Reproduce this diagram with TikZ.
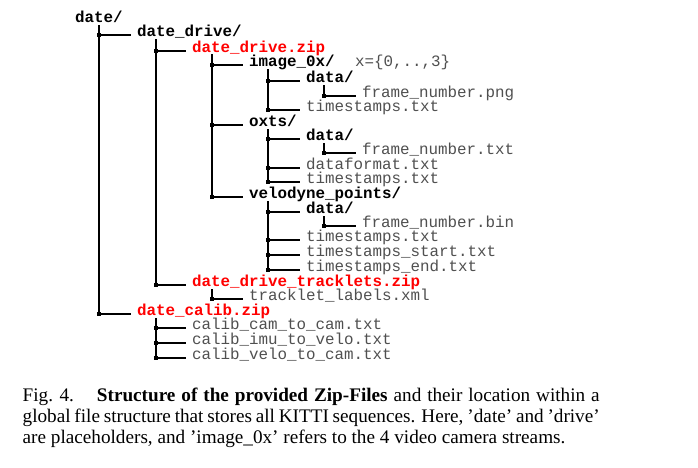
\documentclass[tikz,border=0pt]{standalone}
\usepackage{fontspec}
\setmainfont{Liberation Serif}
\newfontfamily\courfont{Liberation Mono}
\definecolor{filegray}{HTML}{505050}
\definecolor{zipred}{HTML}{FF0000}
\begin{document}
\begin{tikzpicture}[x=1pt,y=-1pt,
  item/.style={anchor=base west,inner sep=0pt,outer sep=0pt,font=\courfont\fontsize{15.85}{15.85}\selectfont},
  dirnode/.style={item,font=\courfont\bfseries\fontsize{15.85}{15.85}\selectfont,text=black},
  zipnode/.style={item,font=\courfont\bfseries\fontsize{15.85}{15.85}\selectfont,text=zipred},
  filenode/.style={item,text=filegray},
  conn/.style={line width=2pt,draw=black},
  jdot/.style={fill=black,inner sep=0pt,minimum size=4pt,rectangle},
  captext/.style={anchor=base west,inner sep=0pt,font=\fontsize{19.2}{21}\selectfont}
]
\useasboundingbox (0,0) rectangle (698,467);
\fill[white] (0,0) rectangle (698,467);

% ---------- nodes (baseline = line y + 1.5) ----------
\node[dirnode]  (date)   at (75,22.5)   {date/};
\node[dirnode]  (dd)     at (137,36.5)  {date\_drive/};
\node[zipnode]  (ddz)    at (192,52.5)  {date\_drive.zip};
\node[dirnode]  (img)    at (249,66.5)  {image\_0x/};
\node[filenode] (imgx)   at (355,66.5)  {x=\{0,..,3\}};
\node[dirnode]  (imgd)   at (306,82.5)  {data/};
\node[filenode] (imgdf)  at (362,97.5)  {frame\_number.png};
\node[filenode] (imgts)  at (306,111.5) {timestamps.txt};
\node[dirnode]  (oxts)   at (249,126.5) {oxts/};
\node[dirnode]  (oxd)    at (306,140.5) {data/};
\node[filenode] (oxdf)   at (362,154.5) {frame\_number.txt};
\node[filenode] (oxfmt)  at (306,169.5) {dataformat.txt};
\node[filenode] (oxts2)  at (306,183.5) {timestamps.txt};
\node[dirnode]  (velo)   at (249,198.5) {velodyne\_points/};
\node[dirnode]  (vd)     at (306,213.5) {data/};
\node[filenode] (vdf)    at (362,227.5) {frame\_number.bin};
\node[filenode] (vts)    at (306,241.5) {timestamps.txt};
\node[filenode] (vtss)   at (306,256.5) {timestamps\_start.txt};
\node[filenode] (vtse)   at (306,271.5) {timestamps\_end.txt};
\node[zipnode]  (trk)    at (192,286.5) {date\_drive\_tracklets.zip};
\node[filenode] (trkl)   at (249,300.5) {tracklet\_labels.xml};
\node[zipnode]  (cal)    at (137,315.5) {date\_calib.zip};
\node[filenode] (cal1)   at (192,329.5) {calib\_cam\_to\_cam.txt};
\node[filenode] (cal2)   at (192,344.5) {calib\_imu\_to\_velo.txt};
\node[filenode] (cal3)   at (192,359.5) {calib\_velo\_to\_cam.txt};

% ---------- vertical starts of each parent ----------
\coordinate (pdate) at (99,25);
\coordinate (pdd)   at (155.5,39);
\coordinate (pddz)  at (212,54);
\coordinate (pimg)  at (268,69);
\coordinate (pimgd) at (324,85);
\coordinate (poxts) at (268,129);
\coordinate (poxd)  at (324,143);
\coordinate (pvelo) at (268,201);
\coordinate (pvd)   at (324,216);
\coordinate (ptrk)  at (212,289);
\coordinate (pcal)  at (155.5,318);

% ---------- connectors ----------
\foreach \p/\c in {pdate/dd,pdate/cal,
                   pdd/ddz,pdd/trk,
                   pddz/img,pddz/oxts,pddz/velo,
                   pimg/imgd,pimg/imgts,
                   pimgd/imgdf,
                   poxts/oxd,poxts/oxfmt,poxts/oxts2,
                   poxd/oxdf,
                   pvelo/vd,pvelo/vts,pvelo/vtss,pvelo/vtse,
                   pvd/vdf,
                   ptrk/trkl,
                   pcal/cal1,pcal/cal2,pcal/cal3}{
  \coordinate (e) at ([xshift=-6pt,yshift=1.5pt]\c.base west);
  \draw[conn] (\p) |- (e);
  \node[jdot] at (\p |- e) {};
}

% ---------- caption ----------
\node[captext] (cap1) at (22.5,401) {\makebox[577pt][s]{\mbox{Fig. 4.}\hspace*{1.2em}\textbf{Structure of the provided Zip-Files} and their location within a}};
\node[captext] (cap2) at (22.5,422) {\makebox[577pt][s]{global file structure that stores all KITTI sequences. Here, ’date’ and ’drive’}};
\node[captext] (cap3) at (22.5,443) {are placeholders, and ’image\_0x’ refers to the 4 video camera streams.};
\end{tikzpicture}
\end{document}
